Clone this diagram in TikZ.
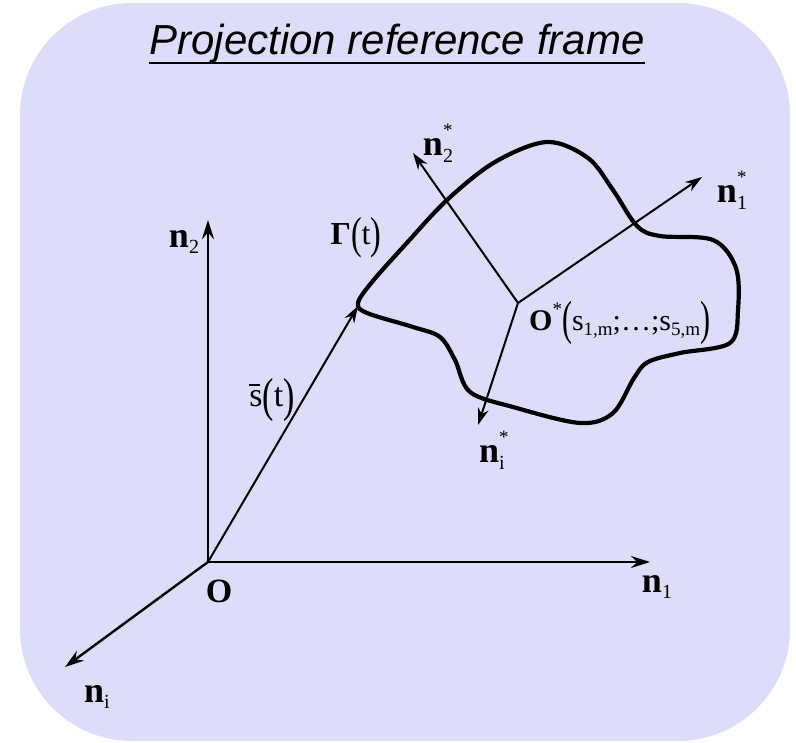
\documentclass[tikz,border=0pt]{standalone}
\usepackage{fontspec}
\usepackage{graphicx}
\setmainfont{Liberation Serif}
\newfontfamily\titlefont{Liberation Sans}
\usetikzlibrary{arrows.meta}
\definecolor{framebg}{RGB}{221,221,250}
\newcommand{\bvec}[3]{\textbf{#1}\rlap{\raisebox{1.15ex}{\fontsize{19}{19}\selectfont #3}}\raisebox{-0.4ex}{\fontsize{20}{20}\selectfont #2}}
\newcommand{\tallp}[2]{\raisebox{-0.3ex}{\scalebox{1}[#1]{#2}}}
\newcommand{\smallsub}[1]{\raisebox{-0.4ex}{\fontsize{19}{19}\selectfont #1}}
\begin{document}
\begin{tikzpicture}[x=1pt, y=-1pt,
    axis/.style = {line width=2.4pt, -{Stealth[length=19pt, width=12pt]}},
    star/.style = {line width=2pt, -{Stealth[length=17pt, width=11pt]}},
    lbl/.style = {inner sep=0pt, font=\fontsize{36}{38}\selectfont}]
  \useasboundingbox (0,0) rectangle (796,743);
  \fill[framebg, rounded corners=112pt] (20,3) rectangle (790,741);
  \node (title) at (397,44) [inner sep=0pt, font=\titlefont\itshape\fontsize{42}{46}\selectfont] {Projection reference frame};
  \draw[line width=2.4pt] ([yshift=-8pt]title.base west) -- ([yshift=-8pt]title.base east);
  % fixed frame
  \coordinate (O) at (208,562);
  \coordinate (n1end) at (650,562);
  \coordinate (n2end) at (208,220);
  \coordinate (niend) at (65,667);
  \draw[axis] (O) -- (n1end);
  \draw[axis] (O) -- (n2end);
  \draw[axis] (O) -- (niend);
  \node (olab) at (219,591) [lbl, font=\fontsize{34}{36}\selectfont\bfseries] {O};
  \node (n1lab) at (657,586) [lbl] {\bvec{n}{1}{}};
  \node (n2lab) at (184,241) [lbl] {\bvec{n}{2}{}};
  \node (nilab) at (97,696) [lbl] {\bvec{n}{i}{}};
  % the curve
  \draw[line width=4.2pt] plot[smooth cycle, tension=0.55] coordinates {
    (358,303) (372,282) (405,245) (447,200) (495,162) (547,142) (588,158)
    (613,190) (637,226) (660,236) (713,240) (736,268) (738,310) (730,343)
    (680,353) (648,362) (634,378) (613,413) (580,423) (513,407) (470,392)
    (455,360) (440,337) (413,327) (367,313)};
  \coordinate (tip) at (358,306);
  \draw[star] (O) -- (tip);
  \node (slab) at (272,400) [lbl, font=\fontsize{34}{36}\selectfont] {\makebox[0pt][l]{\raisebox{0.62em}{\rule{0.32em}{1.2pt}}}s\tallp{1.4}{(}t\tallp{1.4}{)}};
  \node (gamlab) at (356,238) [lbl, font=\fontsize{32}{34}\selectfont] {\textbf{Γ}\tallp{1.4}{(}t\tallp{1.4}{)}};
  % moving frame
  \coordinate (Os) at (518,303);
  \coordinate (n1s) at (702,177);
  \coordinate (n2s) at (413,153);
  \coordinate (nis) at (478,425);
  \draw[star] (Os) -- (n1s);
  \draw[star] (Os) -- (n2s);
  \draw[star] (Os) -- (nis);
  \node (n1slab) at (732,190) [lbl] {\bvec{n}{1}{*}};
  \node (n2slab) at (438,143) [lbl] {\bvec{n}{2}{*}};
  \node (nislab) at (492,450) [lbl] {\bvec{n}{i}{*}};
  \node (oslab) at (529,323) [lbl, anchor=west, font=\fontsize{30}{32}\selectfont] {\textbf{O}\raisebox{1.1ex}{\fontsize{19}{19}\selectfont *}\tallp{1.6}{(}s\smallsub{1,m};\ldots;s\smallsub{5,m}\tallp{1.6}{)}};
\end{tikzpicture}
\end{document}
